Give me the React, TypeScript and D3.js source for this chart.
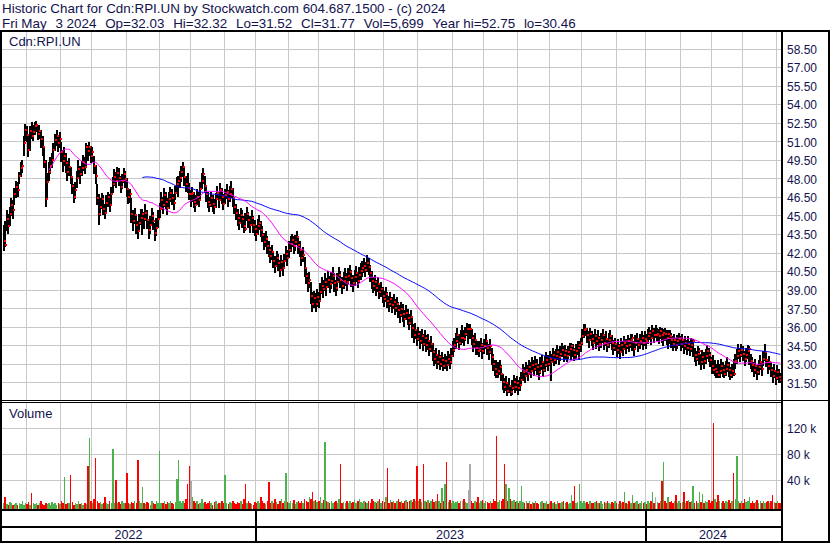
import React from "react";
import * as d3 from "d3";

// ---------- data ----------
const startDate = new Date(2022, 4, 10);
const endDate = new Date(2024, 4, 3);
const holidays = [
  "2022-05-23", "2022-07-01", "2022-08-01", "2022-09-05", "2022-10-10", "2022-12-26", "2022-12-27",
  "2023-01-02", "2023-02-20", "2023-04-07", "2023-05-22", "2023-07-03", "2023-08-07", "2023-09-04",
  "2023-10-09", "2023-12-25", "2023-12-26", "2024-01-01", "2024-02-19", "2024-03-29",
];

const closes = [
  43.0, 42.7, 44.8, 44.2, 45.2, 45.9, 45.5, 46.8, 47.4, 47.1,
  48.3, 48.9, 49.1, 50.9, 52.0, 51.6, 50.4, 51.9, 51.5, 51.8,
  52.3, 52.4, 51.7, 51.9, 51.3, 50.6, 49.4, 46.4, 47.8, 48.6,
  49.1, 49.6, 50.4, 51.2, 51.5, 50.9, 51.3, 50.2, 49.5, 49.9,
  49.3, 48.6, 49.0, 48.2, 47.5, 46.6, 47.1, 48.1, 48.8, 48.4,
  48.9, 49.4, 49.0, 50.6, 50.3, 50.6, 49.9, 50.2, 49.1, 48.3,
  46.5, 45.2, 45.8, 46.4, 45.6, 45.3, 46.1, 46.6, 45.9, 46.8,
  47.6, 48.2, 47.9, 48.5, 48.1, 47.4, 47.9, 48.4, 48.0, 47.2,
  46.6, 46.8, 45.2, 44.6, 45.1, 44.3, 43.8, 44.5, 44.9, 45.2,
  44.8, 45.3, 44.7, 43.9, 44.3, 45.0, 44.6, 43.7, 44.1, 44.8,
  45.6, 46.3, 45.9, 46.7, 46.2, 45.7, 46.4, 46.9, 46.5, 46.1,
  46.9, 47.6, 47.9, 48.1, 48.6, 49.0, 48.2, 47.6, 47.3, 46.8,
  46.8, 46.9, 46.2, 45.9, 46.6, 46.3, 47.2, 47.9, 48.4, 47.5,
  46.8, 46.2, 45.9, 46.5, 46.0, 45.8, 46.4, 46.9, 46.3, 47.1,
  46.6, 46.0, 46.7, 47.0, 46.4, 46.8, 47.2, 46.5, 45.8, 45.3,
  44.9, 44.5, 45.1, 44.8, 44.2, 44.0, 45.2, 44.7, 44.3, 44.9,
  44.3, 44.0, 43.6, 44.2, 44.5, 43.9, 43.5, 42.9, 43.2, 42.6,
  42.3, 41.8, 42.1, 41.4, 41.0, 41.6, 41.2, 40.7, 41.3, 40.8,
  41.4, 42.0, 41.6, 42.3, 42.8, 43.1, 42.6, 42.9, 43.3, 42.7,
  42.3, 41.6, 41.9, 40.8, 40.2, 39.6, 39.9, 38.6, 37.9, 38.4,
  37.9, 38.5, 38.2, 38.9, 39.4, 39.1, 39.7, 39.3, 39.9, 39.5,
  39.8, 40.2, 39.6, 39.2, 39.7, 40.3, 39.9, 39.4, 39.8, 40.1,
  39.7, 40.2, 40.5, 40.0, 39.6, 40.1, 40.4, 39.8, 40.3, 40.6,
  40.8, 41.0, 40.7, 41.2, 40.9, 40.4, 39.8, 39.4, 39.7, 39.2,
  39.5, 38.9, 39.1, 38.6, 38.3, 38.7, 38.2, 37.9, 38.3, 37.8,
  38.1, 37.6, 37.9, 37.4, 37.0, 37.5, 37.1, 36.7, 37.2, 36.8,
  36.4, 36.9, 36.0, 35.4, 35.8, 35.1, 35.5, 34.9, 35.3, 34.7,
  35.2, 34.6, 34.9, 34.3, 34.7, 34.0, 33.5, 33.8, 33.2, 33.6,
  33.1, 33.4, 32.9, 33.3, 33.0, 33.5, 33.2, 33.7, 34.2, 34.6,
  34.9, 35.4, 34.8, 35.2, 35.2, 35.1, 35.5, 35.9, 35.9, 35.9,
  35.2, 34.7, 35.0, 34.4, 34.1, 34.2, 34.6, 34.1, 34.5, 34.9,
  34.4, 34.0, 34.5, 33.6, 33.1, 32.7, 32.3, 32.5, 32.8, 32.3,
  31.6, 31.2, 31.5, 30.9, 31.3, 30.8, 31.1, 31.6, 31.2, 31.5,
  31.1, 31.4, 31.8, 32.4, 32.1, 32.6, 32.3, 32.8, 32.5, 33.0,
  32.7, 33.1, 32.8, 32.4, 32.9, 33.2, 32.6, 33.0, 33.4, 33.1,
  33.5, 33.2, 33.8, 33.4, 33.7, 34.0, 33.6, 33.9, 34.2, 33.8,
  34.1, 33.7, 34.0, 34.3, 34.5, 34.2, 33.8, 34.1, 34.4, 34.6,
  34.8, 35.3, 35.8, 35.9, 35.4, 35.0, 35.5, 35.1, 34.8, 35.3,
  34.9, 35.2, 34.7, 35.0, 35.4, 34.8, 35.1, 34.6, 35.0, 35.3,
  34.8, 34.4, 34.7, 34.2, 34.5, 34.0, 34.6, 34.3, 34.8, 34.5,
  34.9, 34.6, 35.0, 35.2, 34.3, 34.8, 35.1, 34.6, 34.9, 35.2,
  34.8, 35.1, 34.9, 35.3, 35.6, 35.2, 35.7, 35.4, 35.4, 35.5,
  35.3, 35.7, 35.4, 35.6, 35.5, 35.2, 35.5, 35.3, 35.0, 34.7,
  35.0, 34.6, 34.9, 35.1, 34.7, 35.0, 34.5, 34.8, 34.4, 34.7,
  34.3, 34.6, 34.9, 33.8, 33.5, 33.9, 34.1, 33.2, 33.6, 33.3,
  33.7, 34.1, 33.8, 33.4, 32.9, 32.6, 32.7, 32.4, 32.2, 32.5,
  32.9, 32.6, 32.3, 32.7, 33.0, 32.6, 32.2, 32.5, 32.3, 33.3,
  33.7, 34.1, 33.8, 34.2, 33.9, 33.5, 33.8, 34.1, 34.3, 33.3,
  33.0, 32.6, 32.9, 32.4, 32.8, 33.2, 32.7, 33.5, 34.0, 33.4,
  32.9, 33.2, 32.6, 32.1, 32.5, 31.9, 32.4, 32.0, 31.77,
];

const highs = [
  44.3, 44.6, 45.5, 45.2, 45.8, 46.5, 46.3, 47.3, 47.9, 47.8,
  48.6, 49.4, 49.6, 51.5, 52.5, 52.3, 51.5, 52.3, 52.6, 52.4,
  52.6, 52.75, 52.3, 52.4, 52.0, 51.5, 50.5, 49.6, 48.5, 49.4,
  49.8, 50.1, 50.9, 51.7, 51.96, 51.6, 51.8, 51.0, 50.4, 50.6,
  50.1, 49.5, 49.7, 49.0, 48.3, 47.6, 47.8, 48.7, 49.6, 49.1,
  49.5, 50.0, 49.8, 50.9, 50.8, 51.0, 50.7, 50.6, 49.9, 49.2,
  47.6, 46.8, 46.5, 46.9, 46.7, 46.0, 46.7, 47.0, 46.8, 47.4,
  48.2, 48.8, 48.6, 49.0, 48.9, 48.3, 48.4, 48.9, 48.7, 48.1,
  47.3, 47.2, 46.5, 45.5, 45.7, 45.2, 44.6, 45.2, 45.6, 45.6,
  45.4, 46.0, 45.5, 44.8, 45.0, 45.7, 45.4, 44.5, 44.9, 45.5,
  46.1, 47.0, 46.6, 47.3, 47.0, 46.5, 47.0, 47.4, 47.2, 46.8,
  47.5, 48.2, 48.3, 48.7, 49.1, 49.4, 49.0, 48.3, 48.5, 47.7,
  47.1, 47.4, 47.0, 46.7, 47.2, 47.0, 47.8, 48.5, 48.9, 48.3,
  47.4, 47.0, 46.6, 47.0, 46.7, 46.4, 46.9, 47.5, 47.0, 47.7,
  47.3, 46.8, 47.2, 47.6, 47.1, 47.5, 47.9, 47.3, 46.5, 46.0,
  45.6, 45.2, 45.7, 45.5, 45.0, 45.3, 45.8, 45.4, 45.0, 45.5,
  45.0, 44.7, 44.3, 44.8, 45.1, 44.6, 44.2, 43.7, 43.8, 43.4,
  43.0, 42.5, 42.7, 42.2, 41.8, 42.2, 42.0, 41.5, 41.9, 41.5,
  42.0, 42.6, 42.3, 43.0, 43.4, 43.6, 43.4, 43.5, 43.8, 43.4,
  43.0, 42.4, 42.5, 41.7, 40.9, 40.4, 40.5, 39.7, 38.9, 39.0,
  38.8, 39.1, 38.9, 39.6, 40.1, 39.9, 40.4, 40.0, 40.6, 40.2,
  40.5, 40.9, 40.4, 39.9, 40.4, 40.9, 40.6, 40.1, 40.5, 40.8,
  40.4, 40.8, 41.1, 40.7, 40.3, 40.7, 41.0, 40.5, 40.9, 41.2,
  41.4, 41.6, 41.3, 41.9, 41.6, 41.1, 40.6, 40.1, 40.3, 39.9,
  40.1, 39.6, 39.7, 39.3, 39.0, 39.3, 38.9, 38.6, 38.9, 38.5,
  38.7, 38.3, 38.5, 38.1, 37.8, 38.1, 37.9, 37.4, 37.8, 37.5,
  37.1, 37.4, 36.8, 36.3, 36.4, 35.9, 36.1, 35.7, 35.9, 35.5,
  35.8, 35.4, 35.5, 35.0, 35.3, 34.8, 34.2, 34.4, 33.9, 34.2,
  33.8, 34.0, 33.6, 33.9, 33.7, 34.1, 33.9, 34.4, 34.9, 35.2,
  35.6, 36.0, 35.5, 35.8, 36.2, 35.8, 36.1, 36.4, 36.3, 36.3,
  35.9, 35.4, 35.6, 35.1, 34.9, 34.9, 35.2, 34.8, 35.1, 35.5,
  35.0, 34.7, 35.1, 34.4, 33.9, 33.4, 33.4, 33.2, 33.4, 33.0,
  32.3, 31.9, 32.1, 31.6, 31.9, 31.4, 31.8, 32.2, 31.9, 32.1,
  31.8, 32.0, 32.4, 33.1, 32.8, 33.2, 33.0, 33.4, 33.2, 33.6,
  33.4, 33.7, 33.5, 33.1, 33.6, 33.8, 33.3, 33.7, 34.0, 33.8,
  34.1, 33.9, 34.4, 34.1, 34.3, 34.6, 34.3, 34.5, 34.8, 34.5,
  34.6, 34.3, 34.5, 34.8, 34.8, 34.7, 34.4, 34.7, 34.9, 34.9,
  35.2, 35.9, 36.3, 36.3, 36.0, 35.7, 36.0, 35.7, 35.5, 35.9,
  35.5, 35.8, 35.3, 35.6, 35.9, 35.4, 35.7, 35.2, 35.6, 35.8,
  35.4, 35.0, 35.2, 34.8, 35.1, 34.7, 35.2, 34.9, 35.3, 35.1,
  35.4, 35.2, 35.5, 35.5, 34.9, 35.4, 35.6, 35.2, 35.5, 35.7,
  35.4, 35.7, 35.5, 35.9, 36.1, 35.8, 36.2, 36.0, 36.2, 36.0,
  35.9, 36.1, 36.0, 35.9, 36.0, 35.8, 35.8, 35.8, 35.6, 35.3,
  35.5, 35.2, 35.4, 35.6, 35.3, 35.5, 35.1, 35.3, 35.0, 35.3,
  34.9, 35.2, 35.1, 34.4, 34.1, 34.5, 34.4, 33.9, 34.2, 34.0,
  34.3, 34.6, 34.4, 34.0, 33.6, 33.8, 33.4, 33.1, 33.4, 33.1,
  33.5, 33.2, 33.0, 33.3, 33.6, 33.2, 32.8, 33.1, 33.5, 33.9,
  34.3, 34.7, 34.4, 34.7, 34.5, 34.1, 34.4, 34.6, 34.5, 33.9,
  33.6, 33.2, 33.5, 33.0, 33.4, 33.8, 33.3, 34.1, 34.7, 34.0,
  33.5, 33.7, 33.2, 32.8, 33.1, 32.6, 33.0, 32.7, 32.32,
];

const lows = [
  42.2, 42.5, 43.8, 43.6, 44.2, 45.0, 44.8, 45.9, 46.5, 46.6,
  47.6, 48.2, 48.5, 49.9, 51.1, 51.0, 49.8, 50.3, 51.3, 51.1,
  51.6, 51.8, 51.2, 51.3, 50.5, 49.9, 48.9, 45.8, 46.5, 47.9,
  48.4, 48.9, 49.6, 50.3, 50.7, 50.2, 50.5, 49.4, 48.6, 49.1,
  48.5, 47.9, 48.3, 47.6, 46.8, 46.1, 46.4, 47.3, 48.0, 47.6,
  48.3, 48.7, 48.4, 49.1, 49.5, 49.9, 49.3, 49.4, 48.4, 47.6,
  45.9, 44.3, 45.0, 45.6, 45.1, 44.8, 45.2, 45.8, 45.4, 46.0,
  46.9, 47.5, 47.3, 47.8, 47.5, 46.9, 47.2, 47.7, 47.3, 46.6,
  46.0, 46.1, 44.5, 43.8, 44.4, 43.6, 43.2, 43.8, 44.3, 43.5,
  44.0, 44.6, 44.0, 43.2, 43.6, 44.3, 43.9, 43.0, 43.4, 44.1,
  44.9, 45.5, 45.2, 45.8, 45.6, 45.1, 45.6, 46.2, 45.9, 45.5,
  46.3, 46.9, 46.6, 47.3, 47.8, 48.2, 47.5, 47.0, 46.9, 46.3,
  45.8, 46.2, 45.7, 45.4, 45.9, 45.8, 46.4, 47.2, 47.6, 46.9,
  46.2, 45.7, 45.4, 45.8, 45.4, 45.2, 45.7, 46.3, 45.7, 46.4,
  46.0, 45.5, 46.0, 46.4, 45.8, 46.2, 46.5, 45.8, 45.2, 44.7,
  44.2, 43.9, 44.5, 44.1, 43.7, 43.8, 44.6, 44.1, 43.7, 44.3,
  43.7, 43.4, 43.0, 43.5, 43.9, 43.3, 42.9, 42.3, 42.5, 42.0,
  41.7, 41.2, 41.5, 40.8, 40.4, 40.9, 40.6, 40.1, 40.6, 40.2,
  40.8, 41.3, 41.0, 41.6, 42.1, 42.5, 42.0, 42.2, 42.7, 42.0,
  41.7, 41.0, 41.3, 40.1, 39.5, 38.9, 39.2, 37.9, 37.3, 37.6,
  37.3, 37.7, 37.6, 38.2, 38.7, 38.4, 39.0, 38.6, 39.2, 38.8,
  39.1, 39.5, 38.9, 38.6, 39.0, 39.6, 39.2, 38.7, 39.1, 39.4,
  39.0, 39.5, 39.8, 39.3, 38.9, 39.4, 39.7, 39.2, 39.6, 39.9,
  40.1, 40.4, 40.1, 40.5, 40.3, 39.7, 39.1, 38.8, 39.0, 38.6,
  38.9, 38.3, 38.5, 38.0, 37.7, 38.1, 37.6, 37.3, 37.7, 37.2,
  37.5, 37.0, 37.3, 36.8, 36.4, 36.9, 36.5, 36.1, 36.6, 36.2,
  35.8, 36.2, 35.2, 34.8, 35.1, 34.5, 34.9, 34.3, 34.7, 34.1,
  34.5, 34.0, 34.2, 33.7, 34.0, 33.3, 32.9, 33.1, 32.7, 33.0,
  32.6, 32.8, 32.5, 32.7, 32.5, 32.9, 32.7, 33.1, 33.6, 34.0,
  34.3, 34.8, 34.2, 34.6, 34.8, 34.5, 34.9, 35.3, 34.7, 35.1,
  34.6, 34.0, 34.4, 33.8, 33.8, 33.6, 34.0, 33.5, 33.9, 34.3,
  33.8, 33.4, 33.9, 33.0, 32.5, 32.1, 31.9, 31.9, 32.2, 31.7,
  31.0, 30.7, 30.9, 30.5, 30.7, 30.46, 30.6, 31.0, 30.7, 30.9,
  30.6, 30.9, 31.3, 31.7, 31.5, 32.0, 31.7, 32.2, 31.9, 32.4,
  32.1, 32.5, 32.2, 31.8, 32.3, 32.6, 32.0, 32.4, 32.8, 32.5,
  32.9, 31.7, 33.2, 32.9, 33.1, 33.4, 33.0, 33.3, 33.6, 33.2,
  33.5, 33.2, 33.5, 33.7, 33.4, 33.6, 33.3, 33.5, 33.8, 33.4,
  34.0, 34.6, 35.2, 35.3, 34.8, 34.4, 34.9, 34.5, 34.2, 34.7,
  34.3, 34.6, 34.1, 34.4, 34.8, 34.2, 34.5, 34.0, 34.4, 34.7,
  34.2, 33.8, 34.1, 33.6, 33.9, 33.5, 34.0, 33.7, 34.2, 33.9,
  34.3, 34.0, 34.4, 34.1, 33.7, 34.2, 34.5, 34.0, 34.3, 34.6,
  34.2, 34.5, 34.3, 34.7, 35.0, 34.6, 35.1, 34.8, 35.2, 34.9,
  34.7, 35.1, 34.8, 34.5, 34.9, 34.6, 34.3, 34.7, 34.4, 34.1,
  34.4, 34.1, 34.3, 34.5, 34.1, 34.4, 33.9, 34.2, 33.8, 34.1,
  33.7, 34.0, 33.6, 33.2, 32.9, 33.3, 33.0, 32.6, 33.0, 32.7,
  33.1, 33.5, 33.2, 32.8, 32.3, 32.3, 32.1, 31.9, 31.9, 31.9,
  32.3, 32.0, 31.9, 32.1, 32.4, 32.0, 31.8, 31.9, 32.1, 32.7,
  33.1, 33.5, 33.2, 33.6, 33.3, 32.9, 33.2, 33.5, 33.0, 32.7,
  32.4, 32.0, 32.3, 31.8, 32.2, 32.6, 32.1, 32.9, 33.3, 32.8,
  32.3, 32.6, 32.0, 31.5, 31.9, 31.4, 31.8, 31.5, 31.52,
];

// volume in thousands of shares
const volumesK = [
  6, 15, 4, 3, 7, 5, 3, 4, 6, 3,
  5, 4, 8, 3, 6, 4, 7, 3, 21, 5,
  4, 6, 3, 5, 9, 4, 3, 6, 4, 5,
  3, 7, 4, 5, 3, 6, 4, 8, 5, 46,
  4, 6, 5, 48, 7, 3, 5, 4, 9, 4,
  5, 3, 6, 4, 63, 106, 8, 5, 12, 75,
  9, 5, 7, 4, 6, 14, 5, 4, 8, 5,
  89, 6, 41, 5, 7, 4, 9, 5, 6, 52,
  6, 4, 7, 5, 9, 6, 72, 8, 5, 30,
  6, 4, 7, 5, 3, 8, 6, 4, 9, 5,
  85, 6, 5, 8, 4, 7, 5, 9, 6, 4,
  7, 42, 72, 8, 5, 9, 6, 12, 34, 62,
  40, 14, 8, 5, 9, 4, 6, 12, 5, 7,
  4, 6, 8, 5, 3, 7, 9, 4, 6, 5,
  8, 5, 48, 6, 4, 7, 5, 9, 6, 4,
  7, 5, 8, 4, 12, 35, 6, 9, 5, 4,
  3, 7, 6, 8, 5, 14, 9, 6, 4, 8,
  37, 6, 9, 5, 11, 7, 4, 8, 12, 6,
  9, 51, 7, 5, 8, 6, 10, 4, 7, 9,
  6, 8, 5, 12, 9, 7, 15, 11, 22, 8,
  10, 7, 9, 14, 6, 10, 100, 9, 7, 6,
  8, 5, 7, 9, 6, 11, 65, 5, 7, 6,
  9, 6, 8, 5, 7, 10, 6, 8, 12, 7,
  6, 9, 7, 5, 8, 6, 12, 9, 7, 6,
  8, 11, 6, 9, 7, 14, 60, 6, 10, 7,
  9, 6, 8, 11, 7, 9, 6, 8, 10, 7,
  8, 10, 7, 12, 9, 63, 8, 11, 7, 66,
  9, 7, 10, 6, 8, 12, 7, 9, 20, 8,
  6, 28, 9, 34, 68, 7, 10, 6, 8, 5,
  7, 9, 6, 8, 9, 11, 7, 5, 26, 66,
  8, 6, 9, 7, 14, 5, 8, 10, 6, 9,
  7, 5, 8, 6, 11, 9, 108, 7, 10, 8,
  12, 65, 34, 9, 29, 11, 8, 10, 7, 9,
  6, 8, 32, 7, 5, 9, 6, 8, 4, 7,
  5, 8, 6, 4, 7, 9, 5, 6, 8, 4,
  6, 9, 5, 7, 4, 8, 6, 5, 7, 9,
  5, 7, 4, 6, 17, 8, 31, 5, 7, 35,
  8, 6, 9, 5, 7, 4, 8, 6, 5, 7,
  9, 5, 6, 8, 4, 7, 5, 9, 6, 4,
  7, 5, 8, 6, 4, 9, 5, 7, 23, 6,
  4, 8, 6, 17, 5, 7, 9, 4, 6, 8,
  5, 7, 4, 9, 6, 8, 23, 5, 14, 7,
  6, 9, 40, 68, 8, 5, 15, 7, 9, 6,
  8, 18, 6, 9, 5, 7, 22, 6, 8, 10,
  7, 9, 32, 6, 8, 5, 23, 7, 20, 6,
  9, 7, 10, 6, 8, 128, 11, 7, 18, 9,
  6, 8, 5, 9, 7, 10, 6, 8, 52, 12,
  78, 9, 6, 8, 5, 11, 7, 9, 15, 6,
  8, 5, 7, 10, 6, 9, 5, 8, 6, 7,
  9, 6, 8, 17, 7, 5, 9, 6, 5.7,
];

const priceTicks = [31.5, 33, 34.5, 36, 37.5, 39, 40.5, 42, 43.5, 45, 46.5, 48, 49.5, 51, 52.5, 54, 55.5, 57, 58.5];
const volumeTicks = [40, 80, 120];
const maShort = 30;
const maLong = 90;

const titleLine1 = "Historic Chart for Cdn:RPI.UN by Stockwatch.com 604.687.1500 - (c) 2024";
// pieces of the second title line, separated by double spaces in the original
const titleLine2Parts = ["Fri May", "3 2024", "Op=32.03", "Hi=32.32", "Lo=31.52", "Cl=31.77", "Vol=5,699", "Year hi=52.75", "lo=30.46"];
const symbolLabel = "Cdn:RPI.UN";

// ---------- layout ----------
const W = 830;
const H = 543;
const PL = 2;
const PR = 781;
const P_TOP = 32;
const P_BOT = 400;
const V_TOP = 403;
const V_BOT = 509;
const FONT = "'Liberation Sans', Arial, Helvetica, sans-serif";
const TXT = "#12124e";

function sma(values: number[], n: number): (number | null)[] {
  return values.map((_, i) => (i < n - 1 ? null : (d3.mean(values.slice(i - n + 1, i + 1)) as number)));
}

export default function App() {
  const fmt = d3.timeFormat("%Y-%m-%d");
  const hol = new Set(holidays);
  const dates = d3.timeDay
    .range(startDate, d3.timeDay.offset(endDate, 1))
    .filter((d) => d.getDay() !== 0 && d.getDay() !== 6 && !hol.has(fmt(d)));
  const N = closes.length;

  const x = d3.scaleLinear().domain([0, N - 1]).range([3.5, 780.4]);
  const yP = d3.scaleLinear().domain([31.5, 58.5]).range([383.4, 49.5]);
  const yV = d3.scaleLinear().domain([0, 40]).range([506.5, 480.5]);

  const monthStarts: number[] = [];
  const yearStarts: number[] = [];
  for (let i = 1; i < Math.min(dates.length, N); i++) {
    if (dates[i].getMonth() !== dates[i - 1].getMonth()) monthStarts.push(i);
    if (dates[i].getFullYear() !== dates[i - 1].getFullYear()) yearStarts.push(i);
  }
  const sepXs = yearStarts.map((i) => Math.round(x(i)) - 1);
  const bounds = [PL, ...sepXs, PR];
  const yearLabels = [dates[0].getFullYear(), ...yearStarts.map((i) => dates[i].getFullYear())];

  const ma1 = sma(closes, maShort);
  const ma2 = sma(closes, maLong);
  const line = d3
    .line<number | null>()
    .defined((d) => d !== null)
    .x((_, i) => x(i))
    .y((d) => yP(d as number));

  const volColor = (i: number) => {
    if (i === 0) return "#4cb34c";
    if (closes[i] > closes[i - 1]) return "#4cb34c";
    if (closes[i] < closes[i - 1]) return "#ff0000";
    return "#a8a8a8";
  };

  return (
    <svg
      width={W}
      height={H}
      viewBox={`0 0 ${W} ${H}`}
      style={{ position: "absolute", left: 0, top: 0, display: "block", background: "#fff" }}
    >
      <rect x={0} y={0} width={W} height={H} fill="#fff" />
      <defs>
        <clipPath id="pclip">
          <rect x={PL} y={P_TOP} width={PR - PL} height={P_BOT - P_TOP} />
        </clipPath>
      </defs>

      {/* grid */}
      <g shapeRendering="crispEdges" stroke="#c8c8c8" strokeWidth={1}>
        {priceTicks.map((t) => (
          <line key={"hp" + t} x1={PL} x2={PR} y1={Math.round(yP(t)) - 0.5} y2={Math.round(yP(t)) - 0.5} />
        ))}
        {volumeTicks.map((t) => (
          <line key={"hv" + t} x1={PL} x2={PR} y1={Math.round(yV(t)) - 0.5} y2={Math.round(yV(t)) - 0.5} />
        ))}
        {monthStarts.map((i) => (
          <g key={"m" + i}>
            <line x1={Math.round(x(i)) - 0.5} x2={Math.round(x(i)) - 0.5} y1={P_TOP} y2={P_BOT} />
            <line x1={Math.round(x(i)) - 0.5} x2={Math.round(x(i)) - 0.5} y1={V_TOP} y2={V_BOT} />
          </g>
        ))}
      </g>

      {/* volume */}
      <g shapeRendering="crispEdges">
        {volumesK.map((v, i) => (
          <rect
            key={"v" + i}
            x={x(i) - 0.6}
            y={yV(v)}
            width={1.5}
            height={Math.max(1, V_BOT - yV(v))}
            fill={volColor(i)}
          />
        ))}
      </g>

      {/* price bars */}
      <g clipPath="url(#pclip)" shapeRendering="crispEdges">
        {closes.map((c, i) => {
          const xi = Math.round(x(i));
          const top = yP(highs[i]);
          const bot = yP(lows[i]);
          return (
            <rect key={"b" + i} x={xi - 1} y={top} width={2} height={Math.max(1, bot - top)} fill="#000" />
          );
        })}
        {closes.map((c, i) => {
          const xi = Math.round(x(i));
          return <rect key={"c" + i} x={xi} y={Math.round(yP(c)) - 1} width={2} height={2} fill="#ff0000" />;
        })}
      </g>

      {/* moving averages */}
      <g clipPath="url(#pclip)" fill="none" strokeWidth={1}>
        <path d={line(ma2) || ""} stroke="#0000ff" />
        <path d={line(ma1) || ""} stroke="#ff00ff" />
      </g>

      {/* frame */}
      <g fill="#000" shapeRendering="crispEdges">
        <rect x={0} y={30} width={W} height={2} />
        <rect x={0} y={30} width={2} height={H - 30} />
        <rect x={W - 2} y={30} width={2} height={H - 30} />
        <rect x={0} y={H - 2} width={W} height={2} />
        <rect x={PR} y={30} width={2} height={H - 30} />
        <rect x={0} y={400} width={W} height={1} />
        <rect x={0} y={402} width={PR} height={1} />
        <rect x={0} y={V_BOT} width={PR + 2} height={2} />
        <rect x={0} y={526} width={PR + 2} height={2} />
        {sepXs.map((sx) => (
          <rect key={"s" + sx} x={sx} y={V_BOT} width={2} height={H - V_BOT} />
        ))}
      </g>

      {/* texts */}
      <g fontFamily={FONT} fill={TXT}>
        <text x={2} y={13} fontSize={13.4}>
          {titleLine1}
        </text>
        <text x={2} y={28} fontSize={13.4}>
          {titleLine2Parts.map((p, k) => (
            <tspan key={"t" + k} dx={k === 0 ? 0 : 8.8}>
              {p}
            </tspan>
          ))}
        </text>
        <text x={9} y={46} fontSize={13}>
          {symbolLabel}
        </text>
        <text x={9} y={417.5} fontSize={13}>
          Volume
        </text>
        {priceTicks.map((t) => (
          <text key={"pt" + t} x={787} y={yP(t) + 4.3} fontSize={12}>
            {t.toFixed(2)}
          </text>
        ))}
        {volumeTicks.map((t) => (
          <text key={"vt" + t} x={787} y={yV(t) + 4.3} fontSize={12}>
            {t + " k"}
          </text>
        ))}
        {yearLabels.map((yr, k) => (
          <text key={"y" + yr} x={(bounds[k] + bounds[k + 1]) / 2} y={539} fontSize={12.5} textAnchor="middle">
            {String(yr)}
          </text>
        ))}
      </g>
    </svg>
  );
}
